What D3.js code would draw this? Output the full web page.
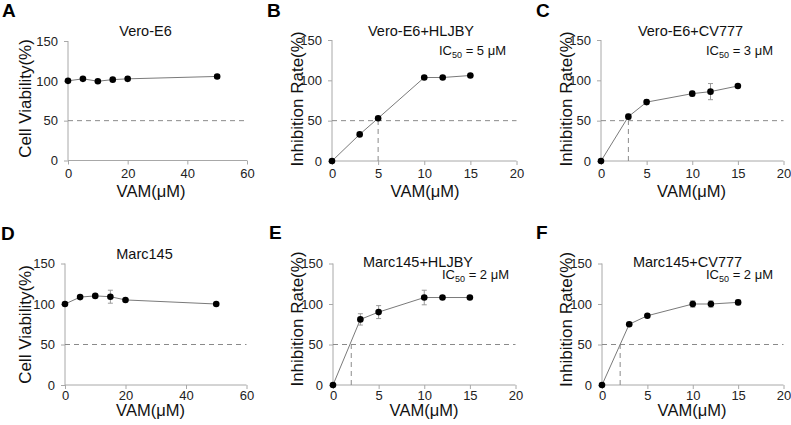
<!DOCTYPE html>
<html><head><meta charset="utf-8">
<script src="https://cdn.jsdelivr.net/npm/d3@7"></script>
<style>
html,body{margin:0;padding:0;background:#fff;}
svg{display:block;font-family:"Liberation Sans",Arial,sans-serif;}
</style></head>
<body><svg id="chart" width="791" height="425"></svg>
<script>
// ---- data ----
const panelLetters = ["A","B","C","D","E","F"];
const panelTitles = ["Vero-E6","Vero-E6+HLJBY","Vero-E6+CV777","Marc145","Marc145+HLJBY","Marc145+CV777"];
const yLabels = ["Cell Viability(%)","Inhibition Rate(%)","Inhibition Rate(%)","Cell Viability(%)","Inhibition Rate(%)","Inhibition Rate(%)"];
const xLabel = "VAM(\u03bcM)";
const doseViability = [0,5,10,15,20,50];
const doseInhibition = [0,3,5,10,12,15];
const veroViability = [100,102.5,99.5,101.5,102.5,105.5];
const veroViabilityErr = [1,1,1.5,1,2.5,2.5];
const veroHljby = [0,33,53,103.5,103.5,106];
const veroHljbyErr = [0,1,1,1,1,1];
const veroCv777 = [0,55,73,83.5,86,93];
const veroCv777Err = [0,3,3,3,10,1];
const marcViability = [100,108.5,110,109,105,100];
const marcViabilityErr = [1,1,1,8,1,1];
const marcHljby = [0,81,90,108,108,108];
const marcHljbyErr = [0,7,8,9,0,0];
const marcCv777 = [0,75,85.5,100,100,102];
const marcCv777Err = [0,1,1,4,4,3];
const ic50 = [null,5,3,null,2,2];
const xMaxes = [60,20,20,60,20,20];
const xTicksViability = [0,20,40,60];
const xTicksInhibition = [0,5,10,15,20];
const yTicks = [0,50,100,150];

// ---- layout ----
const layout = [
  {x0:68, x1:247, yT:41, yB:160.5, pad:4, letter:[2,17], title:[145.5,36], yl:[31,98.5], xl:[151,197], ic:null},
  {x0:332, x1:516.5, yT:40, yB:161, pad:4, letter:[267,17], title:[421,36], yl:[303,99], xl:[425,197], ic:[506,55]},
  {x0:601, x1:783.5, yT:40, yB:161, pad:4, letter:[536,17], title:[690.5,36], yl:[572,99], xl:[691.5,197], ic:[773,55]},
  {x0:65, x1:246.5, yT:263.5, yB:385, pad:2, letter:[1,239.5], title:[144.5,258.7], yl:[31,324.5], xl:[150.5,416], ic:null},
  {x0:333, x1:515.5, yT:263.5, yB:385, pad:2, letter:[269,239], title:[418,267], yl:[303,319], xl:[424,416], ic:[509,278.5]},
  {x0:602, x1:783.5, yT:263.5, yB:385, pad:2, letter:[536,239], title:[687.5,267], yl:[572,319.5], xl:[692,416], ic:[773,278.5]}
];
const seriesX = [doseViability,doseInhibition,doseInhibition,doseViability,doseInhibition,doseInhibition];
const seriesY = [veroViability,veroHljby,veroCv777,marcViability,marcHljby,marcCv777];
const seriesE = [veroViabilityErr,veroHljbyErr,veroCv777Err,marcViabilityErr,marcHljbyErr,marcCv777Err];

const svg = d3.select("#chart");
const axisColor = "#a8a8a8";

layout.forEach((L,i)=>{
  const g = svg.append("g");
  const x = d3.scaleLinear().domain([0,xMaxes[i]]).range([L.x0,L.x1]);
  const y = d3.scaleLinear().domain([0,150]).range([L.yB,L.yT]);
  const xt = xMaxes[i]===60 ? xTicksViability : xTicksInhibition;

  const xa = g.append("g").attr("transform",`translate(0,${L.yB})`)
    .call(d3.axisBottom(x).tickValues(xt).tickSize(4).tickPadding(L.pad).tickFormat(d3.format("d")));
  const ya = g.append("g").attr("transform",`translate(${L.x0},0)`)
    .call(d3.axisLeft(y).tickValues(yTicks).tickSize(4).tickPadding(6).tickFormat(d3.format("d")));
  [xa,ya].forEach(a=>{
    a.select(".domain").attr("stroke",axisColor).attr("stroke-width",1);
    a.selectAll(".tick line").attr("stroke",axisColor);
    a.selectAll(".tick text").attr("fill","#222").style("font-size","13px").style("font-family","Liberation Sans, Arial, sans-serif");
  });
  xa.select(".domain").attr("d",`M${L.x0},0H${L.x1}`);
  ya.select(".domain").attr("d",`M0,${L.yB}V${L.yT}`);

  g.append("line").attr("x1",x(0)).attr("x2",x(xMaxes[i])).attr("y1",y(50)).attr("y2",y(50))
    .attr("stroke","#8a8a8a").attr("stroke-width",1).attr("stroke-dasharray","5,4");
  if (ic50[i]!==null){
    g.append("line").attr("x1",x(ic50[i])).attr("x2",x(ic50[i])).attr("y1",y(0)).attr("y2",y(50))
      .attr("stroke","#8a8a8a").attr("stroke-width",1).attr("stroke-dasharray","5,4");
  }

  const pts = seriesX[i].map((d,k)=>({x:d,y:seriesY[i][k],e:seriesE[i][k]}));
  g.append("path").datum(pts)
    .attr("d",d3.line().x(d=>x(d.x)).y(d=>y(d.y)))
    .attr("fill","none").attr("stroke","#7a7a7a").attr("stroke-width",1);
  pts.filter(d=>d.e>0).forEach(d=>{
    const cx=x(d.x), t=y(d.y+d.e), b=y(d.y-d.e);
    g.append("path").attr("d",`M${cx},${t}V${b}M${cx-2.5},${t}H${cx+2.5}M${cx-2.5},${b}H${cx+2.5}`)
      .attr("stroke","#9a9a9a").attr("stroke-width",1).attr("fill","none");
  });
  g.selectAll("circle.pt").data(pts).enter().append("circle")
    .attr("cx",d=>x(d.x)).attr("cy",d=>y(d.y)).attr("r",3.3).attr("fill","#000");

  g.append("text").attr("x",L.letter[0]).attr("y",L.letter[1]).text(panelLetters[i])
    .style("font-size","19px").style("font-weight","bold").attr("fill","#000");
  g.append("text").attr("x",L.title[0]).attr("y",L.title[1]).attr("text-anchor","middle")
    .text(panelTitles[i]).style("font-size","14.5px").attr("fill","#111");
  g.append("text").attr("transform",`translate(${L.yl[0]},${L.yl[1]}) rotate(-90)`).attr("text-anchor","middle")
    .text(yLabels[i]).style("font-size","17px").attr("fill","#111");
  g.append("text").attr("x",L.xl[0]).attr("y",L.xl[1]).attr("text-anchor","middle")
    .text(xLabel).style("font-size","16.5px").attr("fill","#111");
  if (L.ic){
    const t = g.append("text").attr("x",L.ic[0]).attr("y",L.ic[1]).attr("text-anchor","end")
      .style("font-size","13px").attr("fill","#111");
    t.append("tspan").text("IC");
    t.append("tspan").attr("dy",3).style("font-size","9px").text("50");
    t.append("tspan").attr("dy",-3).text(" = " + ic50[i] + " \u03bcM");
  }
});
</script></body></html>
